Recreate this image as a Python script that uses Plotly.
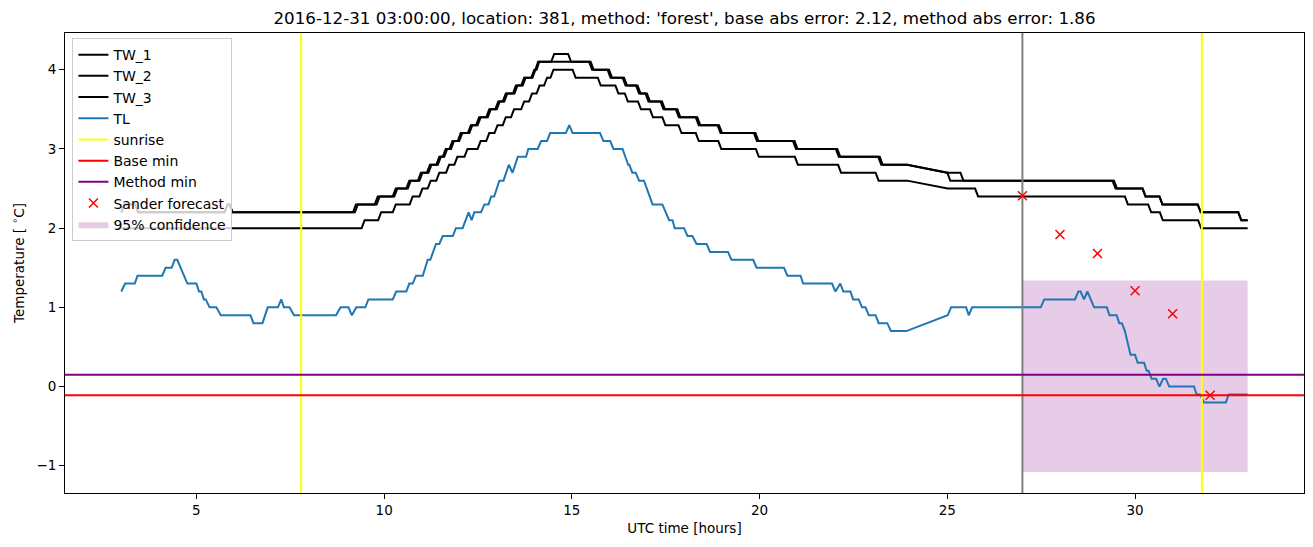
import plotly.graph_objects as go

# -----------------------------
# Data
# -----------------------------
title = ("2016-12-31 03:00:00, location: 381, method: 'forest', "
         "base abs error: 2.12, method abs error: 1.86")

# road surface temperatures (hours since 2016-12-30 00:00 UTC)
tw1_t = [3.0, 3.08, 3.37, 3.45, 5.75, 5.83, 5.88, 5.96, 9.17, 9.25, 9.75, 9.83, 10.23, 10.31,
         10.59, 10.67, 10.9, 10.98, 11.14, 11.22, 11.39, 11.47, 11.56, 11.64, 11.74, 11.82,
         11.96, 12.04, 12.23, 12.31, 12.45, 12.53, 12.72, 12.8, 12.96, 13.04, 13.16, 13.24,
         13.43, 13.51, 13.65, 13.73, 13.92, 14.0, 14.03, 14.1, 14.45, 14.53, 14.9, 14.98,
         15.46, 15.54, 15.95, 16.03, 16.35, 16.43, 16.71, 16.79, 16.96, 17.04, 17.36, 17.44,
         17.77, 17.85, 18.3, 18.38, 18.88, 18.96, 19.85, 19.93, 20.89, 20.97, 22.03, 22.11,
         23.16, 23.24, 23.93, 25.0, 25.08, 29.4, 29.48, 30.2, 30.28, 30.65, 30.73, 31.67,
         31.75, 32.75, 32.83, 33.0]
tw1_v = [2.2, 2.3, 2.3, 2.2, 2.2, 2.3, 2.3, 2.2, 2.2, 2.3, 2.3, 2.4, 2.4, 2.5,
         2.5, 2.6, 2.6, 2.7, 2.7, 2.8, 2.8, 2.9, 2.9, 3.0, 3.0, 3.1,
         3.1, 3.2, 3.2, 3.3, 3.3, 3.4, 3.4, 3.5, 3.5, 3.6, 3.6, 3.7,
         3.7, 3.8, 3.8, 3.9, 3.9, 4.0, 4.0, 4.1, 4.1, 4.2, 4.2, 4.1,
         4.1, 4.0, 4.0, 3.9, 3.9, 3.8, 3.8, 3.7, 3.7, 3.6, 3.6, 3.5,
         3.5, 3.4, 3.4, 3.3, 3.3, 3.2, 3.2, 3.1, 3.1, 3.0, 3.0, 2.9,
         2.9, 2.8, 2.8, 2.7, 2.6, 2.6, 2.5, 2.5, 2.4, 2.4, 2.3, 2.3,
         2.2, 2.2, 2.1, 2.1]

tw2_t = [3.0, 3.08, 3.37, 3.45, 5.75, 5.83, 5.88, 5.96, 9.22, 9.3, 9.8, 9.88, 10.27, 10.35,
         10.63, 10.71, 10.94, 11.02, 11.18, 11.26, 11.43, 11.51, 11.6, 11.68, 11.78, 11.86,
         12.0, 12.08, 12.27, 12.35, 12.49, 12.57, 12.76, 12.84, 13.0, 13.08, 13.2, 13.28,
         13.47, 13.55, 13.69, 13.77, 13.95, 14.03, 14.06, 14.13, 15.5, 15.58, 15.99, 16.07,
         16.39, 16.47, 16.75, 16.83, 17.0, 17.08, 17.4, 17.48, 17.81, 17.89, 18.34, 18.42,
         18.92, 19.0, 19.89, 19.97, 20.93, 21.01, 22.07, 22.15, 23.2, 23.28, 23.93, 25.0,
         25.35, 25.43, 29.44, 29.52, 30.2, 30.28, 30.65, 30.73, 31.67, 31.75, 32.75, 32.83,
         33.0]
tw2_v = [2.2, 2.3, 2.3, 2.2, 2.2, 2.3, 2.3, 2.2, 2.2, 2.3, 2.3, 2.4, 2.4, 2.5,
         2.5, 2.6, 2.6, 2.7, 2.7, 2.8, 2.8, 2.9, 2.9, 3.0, 3.0, 3.1,
         3.1, 3.2, 3.2, 3.3, 3.3, 3.4, 3.4, 3.5, 3.5, 3.6, 3.6, 3.7,
         3.7, 3.8, 3.8, 3.9, 3.9, 4.0, 4.0, 4.1, 4.1, 4.0, 4.0, 3.9,
         3.9, 3.8, 3.8, 3.7, 3.7, 3.6, 3.6, 3.5, 3.5, 3.4, 3.4, 3.3,
         3.3, 3.2, 3.2, 3.1, 3.1, 3.0, 3.0, 2.9, 2.9, 2.8, 2.8, 2.7,
         2.7, 2.6, 2.6, 2.5, 2.5, 2.4, 2.4, 2.3, 2.3, 2.2, 2.2, 2.1,
         2.1]

tw3_t = [3.0, 9.4, 9.48, 9.84, 9.92, 10.23, 10.31, 10.68, 10.76, 10.94, 11.02, 11.16, 11.24,
         11.39, 11.47, 11.65, 11.73, 11.87, 11.95, 12.14, 12.22, 12.49, 12.57, 12.72, 12.8,
         12.94, 13.02, 13.16, 13.24, 13.38, 13.46, 13.65, 13.73, 13.86, 13.94, 14.06, 14.14,
         14.26, 14.34, 14.43, 14.51, 15.02, 15.1, 15.69, 15.77, 16.16, 16.24, 16.41, 16.49,
         16.76, 16.84, 17.08, 17.16, 17.41, 17.49, 17.84, 17.92, 18.3, 18.38, 18.9, 18.98,
         19.9, 19.98, 20.94, 21.02, 22.09, 22.17, 23.09, 23.17, 23.93, 25.01, 25.74, 25.82,
         29.73, 29.81, 30.35, 30.43, 30.66, 30.74, 31.68, 31.76, 33.0]
tw3_v = [2.0, 2.0, 2.1, 2.1, 2.2, 2.2, 2.3, 2.3, 2.4, 2.4, 2.5, 2.5, 2.6,
         2.6, 2.7, 2.7, 2.8, 2.8, 2.9, 2.9, 3.0, 3.0, 3.1, 3.1, 3.2,
         3.2, 3.3, 3.3, 3.4, 3.4, 3.5, 3.5, 3.6, 3.6, 3.7, 3.7, 3.8,
         3.8, 3.9, 3.9, 4.0, 4.0, 3.9, 3.9, 3.8, 3.8, 3.7, 3.7, 3.6,
         3.6, 3.5, 3.5, 3.4, 3.4, 3.3, 3.3, 3.2, 3.2, 3.1, 3.1, 3.0,
         3.0, 2.9, 2.9, 2.8, 2.8, 2.7, 2.7, 2.6, 2.6, 2.5, 2.5, 2.4,
         2.4, 2.3, 2.3, 2.2, 2.2, 2.1, 2.1, 2.0, 2.0]

# air temperature
tl_t = [3.0, 3.1, 3.36, 3.43, 4.09, 4.18, 4.34, 4.42, 4.49, 4.76,
        5.0, 5.07, 5.13, 5.2, 5.25, 5.35, 5.53, 5.65, 6.44, 6.52,
        6.76, 6.9, 7.17, 7.26, 7.33, 7.48, 7.6, 8.72, 8.84, 9.05,
        9.14, 9.26, 9.5, 9.58, 10.23, 10.32, 10.59, 10.67, 10.76, 10.85,
        11.03, 11.16, 11.23, 11.38, 11.47, 11.56, 11.83, 11.91, 12.09, 12.25,
        12.33, 12.4, 12.58, 12.67, 12.78, 12.85, 12.93, 13.07, 13.18, 13.32,
        13.42, 13.56, 13.78, 13.84, 14.09, 14.18, 14.34, 14.42, 14.84, 14.93,
        15.02, 15.75, 15.84, 16.02, 16.11, 16.35, 16.5, 16.53, 16.61, 16.7,
        16.79, 16.92, 17.15, 17.41, 17.59, 17.68, 17.74, 17.99, 18.08, 18.21,
        18.32, 18.59, 18.68, 19.16, 19.25, 19.83, 19.92, 20.65, 20.74, 21.09,
        21.16, 21.93, 22.02, 22.15, 22.23, 22.42, 22.49, 22.64, 22.73, 22.82,
        22.91, 23.09, 23.17, 23.4, 23.5, 23.91, 25.01, 25.1, 25.5, 25.57,
        25.66, 27.49, 27.58, 28.4, 28.49, 28.55, 28.64, 28.73, 28.91, 29.25,
        29.32, 29.51, 29.58, 29.65, 29.73, 29.82, 29.88, 30.0, 30.07, 30.24,
        30.31, 30.36, 30.44, 30.56, 30.65, 30.75, 30.82, 30.91, 31.57, 31.64,
        31.73, 31.84, 32.42, 32.49, 33.0]
tl_v = [1.2, 1.3, 1.3, 1.4, 1.4, 1.5, 1.5, 1.6, 1.6, 1.3,
        1.3, 1.2, 1.2, 1.1, 1.1, 1.0, 1.0, 0.9, 0.9, 0.8,
        0.8, 1.0, 1.0, 1.1, 1.0, 1.0, 0.9, 0.9, 1.0, 1.0,
        0.9, 1.0, 1.0, 1.1, 1.1, 1.2, 1.2, 1.3, 1.3, 1.4,
        1.4, 1.6, 1.6, 1.8, 1.8, 1.9, 1.9, 2.0, 2.0, 2.2,
        2.1, 2.2, 2.2, 2.3, 2.3, 2.4, 2.4, 2.6, 2.6, 2.8,
        2.7, 2.9, 2.9, 3.0, 3.0, 3.1, 3.1, 3.2, 3.2, 3.3,
        3.2, 3.2, 3.1, 3.1, 3.0, 3.0, 2.8, 2.8, 2.7, 2.7,
        2.6, 2.6, 2.3, 2.3, 2.1, 2.1, 2.0, 2.0, 1.9, 1.9,
        1.8, 1.8, 1.7, 1.7, 1.6, 1.6, 1.5, 1.5, 1.4, 1.4,
        1.3, 1.3, 1.2, 1.3, 1.2, 1.2, 1.1, 1.1, 1.0, 1.0,
        0.9, 0.9, 0.8, 0.8, 0.7, 0.7, 0.9, 1.0, 1.0, 0.9,
        1.0, 1.0, 1.1, 1.1, 1.2, 1.2, 1.1, 1.2, 1.0, 1.0,
        0.9, 0.9, 0.8, 0.8, 0.7, 0.5, 0.4, 0.4, 0.3, 0.3,
        0.2, 0.2, 0.1, 0.1, 0.0, 0.1, 0.1, 0.0, 0.0, -0.1,
        -0.1, -0.2, -0.2, -0.1, -0.1]

for t, v in [(tw1_t, tw1_v), (tw2_t, tw2_v), (tw3_t, tw3_v), (tl_t, tl_v)]:
    assert len(t) == len(v), (len(t), len(v))

sunrise_t = [7.79, 31.78]
forecast_time = 27.0
base_min = -0.11
method_min = 0.15

sander_t = [27, 28, 29, 30, 31, 32]
sander_v = [2.41, 1.92, 1.68, 1.21, 0.92, -0.11]

conf_t = [27.0, 33.0]
conf_lo = -1.08
conf_hi = 1.34

# -----------------------------
# Axis limits (matplotlib style 5% margins)
# -----------------------------
xmin, xmax = min(tl_t + tw1_t + conf_t), max(tl_t + tw1_t + conf_t)
ymin = min(tl_v + tw3_v + [conf_lo])
ymax = max(tl_v + tw1_v + [conf_hi])
xpad, ypad = 0.05 * (xmax - xmin), 0.05 * (ymax - ymin)
xr = [xmin - xpad, xmax + xpad]
yr = [ymin - ypad, ymax + ypad]

FONT = "DejaVu Sans"
# the page body keeps its 8px default margin, so the figure is 8px smaller
W, H = 1305, 539

fig = go.Figure()

# confidence area (drawn first, listed last)
fig.add_trace(go.Scatter(
    x=[conf_t[0], conf_t[1], conf_t[1], conf_t[0], conf_t[0]],
    y=[conf_lo, conf_lo, conf_hi, conf_hi, conf_lo],
    mode="lines", fill="toself", fillcolor="rgba(128,0,128,0.2)",
    line=dict(width=0), name="95% confidence", legendrank=9))

for name, t, v, rank in [("TW_1", tw1_t, tw1_v, 1), ("TW_2", tw2_t, tw2_v, 2),
                         ("TW_3", tw3_t, tw3_v, 3)]:
    fig.add_trace(go.Scatter(x=t, y=v, mode="lines", name=name, legendrank=rank,
                             line=dict(color="black", width=2)))

fig.add_trace(go.Scatter(x=tl_t, y=tl_v, mode="lines", name="TL", legendrank=4,
                         line=dict(color="#1f77b4", width=2)))

# vertical lines
sx, sy = [], []
for s in sunrise_t:
    sx += [s, s, None]
    sy += [yr[0], yr[1], None]
fig.add_trace(go.Scatter(x=sx, y=sy, mode="lines", name="sunrise", legendrank=5,
                         line=dict(color="yellow", width=2)))
fig.add_trace(go.Scatter(x=[forecast_time, forecast_time], y=yr, mode="lines",
                         showlegend=False, line=dict(color="gray", width=2)))

# horizontal lines
fig.add_trace(go.Scatter(x=xr, y=[base_min, base_min], mode="lines", name="Base min",
                         legendrank=6, line=dict(color="red", width=2)))
fig.add_trace(go.Scatter(x=xr, y=[method_min, method_min], mode="lines", name="Method min",
                         legendrank=7, line=dict(color="purple", width=2)))

fig.add_trace(go.Scatter(x=sander_t, y=sander_v, mode="markers", name="Sander forecast",
                         legendrank=8,
                         marker=dict(symbol="x-thin", size=9, color="red",
                                     line=dict(color="red", width=1.5))))

axis_style = dict(showgrid=False, zeroline=False, showline=True, linecolor="black",
                  linewidth=1, mirror=True, ticks="outside", ticklen=5, tickwidth=1,
                  tickcolor="black", automargin=False,
                  tickfont=dict(family=FONT, size=13.5, color="black"))

fig.update_xaxes(range=xr, tickvals=[5, 10, 15, 20, 25, 30],
                 title=dict(text="UTC time [hours]", font=dict(family=FONT, size=13.5),
                            standoff=6),
                 **axis_style)
fig.update_yaxes(range=yr, tickvals=[-1, 0, 1, 2, 3, 4],
                 ticktext=["\u22121", "0", "1", "2", "3", "4"],
                 title=dict(text="Temperature [ <sup>\u2218</sup>C]",
                            font=dict(family=FONT, size=13.5), standoff=8),
                 **axis_style)

fig.update_layout(
    width=W, height=H,
    margin=dict(l=57, r=9, t=25, b=54, autoexpand=False),
    plot_bgcolor="white", paper_bgcolor="white",
    font=dict(family=FONT, size=13.5, color="black"),
    title=dict(text=title, x=0.5, xref="paper", xanchor="center",
               y=1 - 10 / H, yref="container", yanchor="middle",
               font=dict(family=FONT, size=16.7, color="black")),
    legend=dict(x=0.006, y=0.989, xanchor="left", yanchor="top",
                bgcolor="rgba(255,255,255,0.8)", bordercolor="#cccccc", borderwidth=1,
                font=dict(family=FONT, size=14), itemwidth=30, tracegroupgap=0),
    showlegend=True,
)

fig.write_html("out.html")
